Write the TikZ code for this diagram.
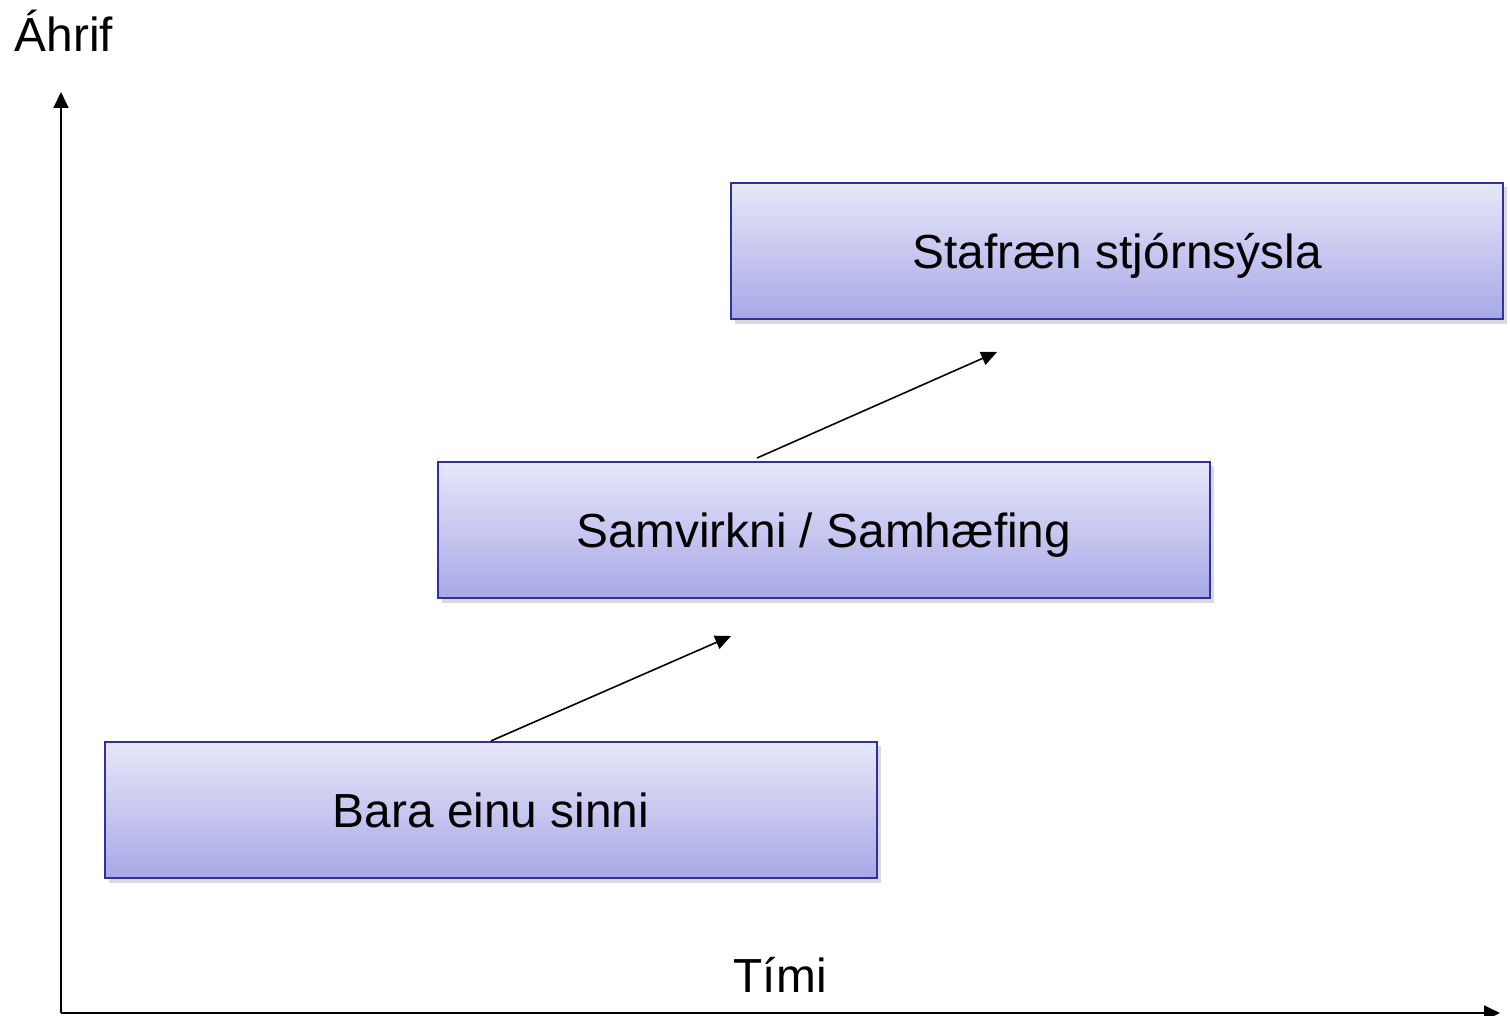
\documentclass[tikz,border=0pt]{standalone}
\usepackage{fontspec}
\setmainfont{Liberation Sans}
\usepackage{xcolor}
\definecolor{Col1}{RGB}{48,48,158}
\definecolor{Top}{RGB}{231,231,249}
\definecolor{Bot}{RGB}{168,168,232}
\usepackage{tikz}
\usetikzlibrary{shadows}
\usetikzlibrary{arrows.meta}
\tikzstyle{Box}=[rectangle,draw=Col1,line width=0.6pt,top color=Top,
bottom color=Bot,minimum width=7.72cm,minimum height=1.36cm,inner sep=0pt,
text height=9.8pt,text depth=0pt,
drop shadow={shadow xshift=0.04cm,shadow yshift=-0.045cm,opacity=0.3},
font=\fontsize{13.6}{16}\selectfont]
\tikzstyle{Edge}=[draw=black,line width=0.45pt,-{Triangle[length=4.5pt,width=4pt]}]
\tikzstyle{Axis}=[draw=black,line width=0.6pt,-{Triangle[length=4.5pt,width=4.2pt]}]
\tikzstyle{NodeST}=[font=\fontsize{13.6}{16}\selectfont,inner sep=0pt]

\begin{document}
\begin{tikzpicture}[x=0.01cm,y=-0.01cm]
        \useasboundingbox(0,0)rectangle(1510,1016);
        \node[Box](1)at(491,810){Bara einu sinni};
        \node[Box](2)at(824,530){Samvirkni / Samhæfing};
        \node[Box](3)at(1117,251){Stafræn stjórnsýsla};
        \coordinate(a1)at(731,636);
        \coordinate(b2)at(757,458);
        \coordinate(a2)at(997,352);
        \draw[Edge](1.north)--(a1);
        \draw[Edge](b2)--(a2);
        \coordinate(O)at(61,1013);
        \coordinate(Y)at(61,92);
        \coordinate(X)at(1500,1013);
        \draw[Axis](O)--(Y);
        \draw[Axis](O)--(X);
        \node[NodeST,anchor=base west](y)at(14,52){Áhrif};
        \node[NodeST,anchor=base west](x)at(733,992){Tími};
    \end{tikzpicture}
\end{document}
